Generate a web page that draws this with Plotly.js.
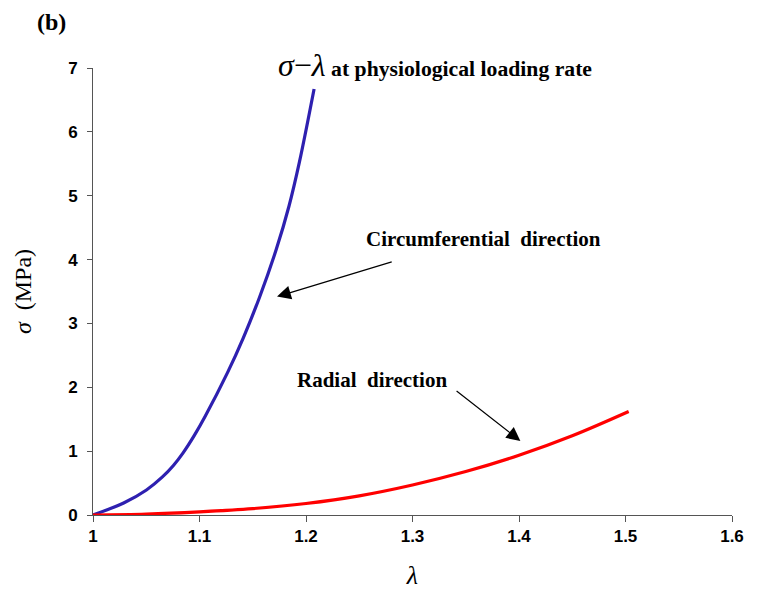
<!DOCTYPE html>
<html>
<head>
<meta charset="utf-8">
<script src="https://cdn.plot.ly/plotly-3.0.1.min.js"></script>
<style>body{margin:0;background:#fff;} #plot{width:762px;height:595px;}</style>
</head>
<body>
<div id="plot"></div>
<script>
// Circumferential direction (blue)
const circLambda = [1.0, 1.0288, 1.0502, 1.0652, 1.0757, 1.0846, 1.0953, 1.1051, 1.1263, 1.14125, 1.1563, 1.1721, 1.184, 1.1938, 1.2076];
const circSigma  = [0.0, 0.188, 0.392, 0.596, 0.78, 0.973, 1.25, 1.538, 2.229, 2.779, 3.407, 4.16, 4.835, 5.526, 6.672];
// Radial direction (red)
const radLambda = [1.0, 1.05, 1.1, 1.15, 1.2, 1.25, 1.3, 1.35, 1.4, 1.45, 1.503];
const radSigma  = [0.0, 0.015, 0.05, 0.1, 0.18, 0.3, 0.47, 0.68, 0.935, 1.24, 1.62];
const xTicks = [1, 1.1, 1.2, 1.3, 1.4, 1.5, 1.6];
const yTicks = [0, 1, 2, 3, 4, 5, 6, 7];

const serif = 'Liberation Serif, Times New Roman, serif';
const sans = 'Liberation Sans, Arial, sans-serif';

const traces = [
  {x: circLambda, y: circSigma, mode: 'lines', line: {color: '#2e20b0', width: 3.2, shape: 'spline', smoothing: 1}, hoverinfo: 'none'},
  {x: radLambda, y: radSigma, mode: 'lines', line: {color: '#ff0000', width: 3.2, shape: 'spline', smoothing: 1}, hoverinfo: 'none'}
];

const layout = {
  width: 762, height: 595,
  margin: {l: 93, r: 30, t: 68, b: 80},
  paper_bgcolor: '#fff', plot_bgcolor: '#fff',
  showlegend: false,
  xaxis: {
    range: [1, 1.6], tickvals: xTicks, ticktext: xTicks.map(String),
    showgrid: false, zeroline: false, showline: true, linecolor: '#555', linewidth: 1,
    ticks: 'outside', ticklen: 6, tickcolor: '#555',
    tickfont: {family: sans, size: 17, weight: 'bold', color: '#000'},
    title: {text: '<i>λ</i>', font: {family: serif, size: 26, color: '#000'}, standoff: 20}
  },
  yaxis: {
    range: [0, 7], tickvals: yTicks, ticktext: yTicks.map(String),
    showgrid: false, zeroline: false, showline: true, linecolor: '#555', linewidth: 1,
    ticks: 'outside', ticklen: 5, tickcolor: '#555', ticklabelstandoff: 6,
    tickfont: {family: sans, size: 17, weight: 'bold', color: '#000'},
    title: {text: '<i>σ</i>  (MPa)', font: {family: serif, size: 24, color: '#000'}, standoff: 29}
  },
  annotations: [
    {xref: 'paper', yref: 'paper', x: -0.0908, y: 1.103, xanchor: 'left', yanchor: 'middle', showarrow: false,
     text: '<b>(b)</b>', font: {family: serif, size: 24, color: '#000'}},
    {xref: 'paper', yref: 'paper', x: 0.535, y: 1.007, xanchor: 'center', yanchor: 'middle', showarrow: false,
     text: '<span style="font-size:32px"><i>σ</i>−<i>λ</i></span>\u00a0<b>at physiological loading rate</b>',
     font: {family: serif, size: 21.7, color: '#000'}},
    {xref: 'x', yref: 'y', x: 1.3665, y: 4.32, xanchor: 'center', yanchor: 'middle', showarrow: false,
     text: '<b>Circumferential\u00a0\u00a0direction</b>', font: {family: serif, size: 21, color: '#000'}},
    {xref: 'x', yref: 'y', x: 1.262, y: 2.12, xanchor: 'center', yanchor: 'middle', showarrow: false,
     text: '<b>Radial\u00a0\u00a0direction</b>', font: {family: serif, size: 21, color: '#000'}},
    {xref: 'x', yref: 'y', x: 1.1728, y: 3.42, axref: 'x', ayref: 'y', ax: 1.2819, ay: 3.97,
     text: '', showarrow: true, arrowhead: 2, arrowsize: 2.3, arrowwidth: 1.2, arrowcolor: '#000'},
    {xref: 'x', yref: 'y', x: 1.4013, y: 1.16, axref: 'x', ayref: 'y', ax: 1.340, ay: 1.96,
     text: '', showarrow: true, arrowhead: 2, arrowsize: 2.3, arrowwidth: 1.2, arrowcolor: '#000'}
  ]
};

Plotly.newPlot('plot', traces, layout, {displayModeBar: false, staticPlot: true});
</script>
</body>
</html>
